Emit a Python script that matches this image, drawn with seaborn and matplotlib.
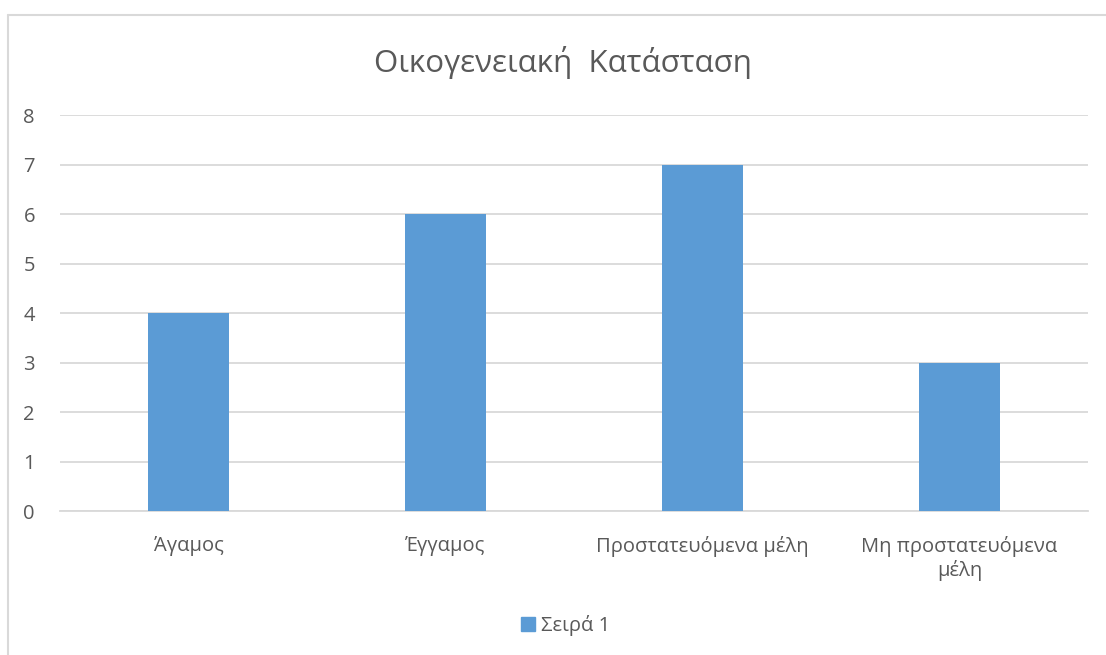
import seaborn as sns
import matplotlib.pyplot as plt
import pandas as pd
from matplotlib.lines import Line2D

# data
categories = ['Άγαμος', 'Έγγαμος', 'Προστατευόμενα μέλη', 'Μη προστατευόμενα\nμέλη']
values = [4, 6, 7, 3]
series_name = 'Σειρά 1'

df = pd.DataFrame({'cat': categories, 'val': values})

sns.set_style('white')
plt.rcParams['font.family'] = ['Open Sans', 'DejaVu Sans']
text_col = '#595959'
grid_col = '#d9d9d9'
bar_col = '#5b9bd5'

fig = plt.figure(figsize=(11.06, 6.55), dpi=100)
ax = fig.add_axes([0.0542, 0.2198, 0.9295, 0.6046])

sns.barplot(data=df, x='cat', y='val', color=bar_col, width=0.315,
            saturation=1, linewidth=0, ax=ax, zorder=3)

ax.set_ylim(0, 8)
ax.set_yticks(range(0, 9))
ax.yaxis.grid(True, color=grid_col, linewidth=1.3, zorder=0)
ax.set_axisbelow(True)
for s in ['top', 'right', 'left']:
    ax.spines[s].set_visible(False)
ax.spines['bottom'].set_color(grid_col)
ax.spines['bottom'].set_linewidth(1.3)
ax.tick_params(axis='both', length=0, labelsize=14.5, colors=text_col)
ax.tick_params(axis='y', pad=18)
ax.tick_params(axis='x', pad=18)
for lbl in ax.get_xticklabels():
    lbl.set_linespacing(1.2)
ax.set_xlabel('')
ax.set_ylabel('')

fig.text(0.509, 0.905, 'Οικογενειακή  Κατάσταση', ha='center', va='center',
         fontsize=22.5, color=text_col)

handle = Line2D([], [], marker='s', linestyle='', color=bar_col, markersize=10)
fig.legend([handle], [series_name], loc='center', bbox_to_anchor=(0.51, 0.045),
           frameon=False, fontsize=14.5, labelcolor=text_col,
           handletextpad=0.1, handlelength=1)

# chart border (left and top)
fig.add_artist(Line2D([0.0075, 0.0075], [0, 0.977], color=grid_col, linewidth=1.5,
                      transform=fig.transFigure))
fig.add_artist(Line2D([0.0075, 1], [0.977, 0.977], color=grid_col, linewidth=1.5,
                      transform=fig.transFigure))

fig.savefig('out.png', dpi=100)
